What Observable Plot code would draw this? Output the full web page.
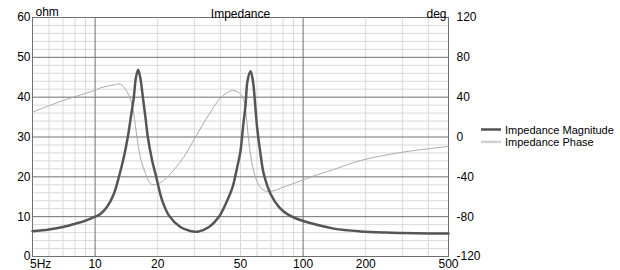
<!DOCTYPE html>
<html><head><meta charset="utf-8">
<script src="https://cdn.jsdelivr.net/npm/d3@7"></script>
<script src="https://cdn.jsdelivr.net/npm/@observablehq/plot@0.6"></script>
<style>
body{margin:0;background:#fff;font-family:"Liberation Sans",Arial,sans-serif;}
#wrap{position:relative;width:620px;height:270px;overflow:hidden;}
#legend{position:absolute;left:0;top:0;}
</style></head><body><div id="wrap"></div>
<script>
// Impedance magnitude (ohm) vs frequency (Hz)
const magFreq = [5,6,7,8,9,10,10.6,11.4,12.3,13.0,13.74,14.36,14.92,15.35,15.7,16.1,16.5,16.96,17.47,17.92,18.82,19.67,21.0,22.7,25.7,28.7,31.4,35.3,39.3,43.2,45.8,48.2,50,51.4,52.9,54,55.9,57.4,58.8,60.1,62.4,64.7,69.8,76.6,83.6,92,108,140.5,188.8,250,300,400,500];
const magOhm  = [6.35,6.8,7.4,8.2,9.0,10.0,10.7,12.4,15.7,19.9,24.9,30,35.7,40,44.8,46.9,44.8,40,34.8,30,24,20,14.1,10.2,7.4,6.4,6.3,7.4,9.9,14.1,17.4,22.4,26.5,32.4,38.2,44,46.5,44,38.2,32.4,25.7,20.7,15.7,12.4,10.7,9.6,8.4,7.0,6.3,6.0,5.9,5.8,5.75];
// Impedance phase (deg) vs frequency (Hz)
const phaseFreq = [5,7,10,10.6,12.5,13.2,14.2,14.9,15.35,15.9,16.5,17.5,18.5,19.5,20.5,22.2,26.6,30.4,35.3,40.9,46.4,51,52.9,54.6,56.5,60.3,64.7,71,80,92,108,140,188.8,300,500];
const phaseDeg  = [25,36.5,47,49.3,52.6,53.2,46,36,22.7,-0.5,-20.5,-37,-47,-47.8,-46,-40.4,-20.5,0,22.7,41,46.7,41,26,-0.7,-24,-45.6,-53.7,-54.3,-50.5,-46,-40.4,-32.7,-23.6,-15.3,-9.5];

const xTickVals = [5,10,20,50,100,200,500];
const xTickLabels = ["5Hz","10","20","50","100","200","500"];
const xMajorGrid = [10,100];
const xMinorGrid = [6,7,8,9,20,30,40,50,60,70,80,90,200,300,400];
const yTickVals = [0,10,20,30,40,50,60];
const yMajorGrid = [10,20,30,40,50];
const yMinorGrid = [2,4,6,8,12,14,16,18,22,24,26,28,32,34,36,38,42,44,46,48,52,54,56,58];
const degTickVals = [-120,-80,-40,0,40,80,120];
const degMin = -120, degMax = 120, ohmMin = 0, ohmMax = 60;
const seriesNames = ["Impedance Magnitude", "Impedance Phase"];

const degToOhm = d => ohmMin + (d - degMin) / (degMax - degMin) * (ohmMax - ohmMin);

const mag = magFreq.map((f,i)=>({f, v: magOhm[i]}));
const phase = phaseFreq.map((f,i)=>({f, v: degToOhm(phaseDeg[i])}));
const degTicks = degTickVals.map(d=>({pos: degToOhm(d), label: String(d)}));
const xLabels = xTickVals.map((f,i)=>({f, label: xTickLabels[i], first: i===0}));

const font = "'Liberation Sans', Arial, sans-serif";
const chart = Plot.plot({
  width: 620, height: 270,
  marginLeft: 32, marginRight: 172, marginTop: 17, marginBottom: 14,
  x: {type: "log", domain: [5,500], axis: null},
  y: {domain: [ohmMin, ohmMax], axis: null},
  style: {fontFamily: font, fontSize: "12px", color: "#000", background: "#fff", overflow: "visible"},
  marks: [
    Plot.ruleX(xMinorGrid, {stroke: "#d9d9d9"}),
    Plot.ruleY(yMinorGrid, {stroke: "#d9d9d9"}),
    Plot.ruleX(xMajorGrid, {stroke: "#707070"}),
    Plot.ruleY(yMajorGrid, {stroke: "#707070"}),
    Plot.frame({stroke: "#707070"}),
    Plot.line(phase, {x: "f", y: "v", stroke: "#aaaaaa", strokeWidth: 1, curve: "catmull-rom"}),
    Plot.line(mag, {x: "f", y: "v", stroke: "#555", strokeWidth: 2.5, curve: "catmull-rom"}),
    Plot.axisY(yTickVals, {anchor: "left", label: null, tickSize: 0, tickPadding: 2, fill: "#000", fontSize: 12}),
    Plot.axisY(degTicks.map(d=>d.pos), {anchor: "right", label: null, tickSize: 0, tickPadding: 8, fill: "#000", fontSize: 12,
      tickFormat: p => degTicks.find(d=>d.pos===p).label}),
    Plot.text(xLabels.filter(d=>!d.first), {x: "f", frameAnchor: "bottom", text: "label", lineAnchor: "top", dy: 3, fill: "#000", fontSize: 12}),
    Plot.text(xLabels.filter(d=>d.first), {x: "f", frameAnchor: "bottom", text: "label", textAnchor: "start", lineAnchor: "top", dx: -2.5, dy: 3, fill: "#000", fontSize: 12}),
    Plot.text(["Impedance"], {frameAnchor: "top", text: d=>d, dy: -8, fill: "#000", fontSize: 12}),
    Plot.text(["ohm"], {frameAnchor: "top-left", text: d=>d, textAnchor: "start", dx: 3, dy: -10, fill: "#000", fontSize: 12}),
    Plot.text(["deg"], {frameAnchor: "top-right", text: d=>d, textAnchor: "end", dx: -2, dy: -8, fill: "#000", fontSize: 12})
  ]
});
const wrap = document.getElementById("wrap");
wrap.appendChild(chart);

// legend overlay
const ns = "http://www.w3.org/2000/svg";
const lg = document.createElementNS(ns, "svg");
lg.setAttribute("id","legend"); lg.setAttribute("width", 620); lg.setAttribute("height", 270);
const legendColors = ["#555", "#d0d0d0"];
seriesNames.forEach((name,i)=>{
  const y = 129.5 + i*12.4;
  const ln = document.createElementNS(ns, "line");
  ln.setAttribute("x1", 481); ln.setAttribute("x2", 501); ln.setAttribute("y1", y); ln.setAttribute("y2", y);
  ln.setAttribute("stroke", legendColors[i]); ln.setAttribute("stroke-width", 2.5);
  lg.appendChild(ln);
  const tx = document.createElementNS(ns, "text");
  tx.setAttribute("x", 505); tx.setAttribute("y", y + 4.3);
  tx.setAttribute("font-family", font); tx.setAttribute("font-size", 11); tx.setAttribute("fill", "#000");
  tx.textContent = name;
  lg.appendChild(tx);
});
wrap.appendChild(lg);
</script></body></html>
